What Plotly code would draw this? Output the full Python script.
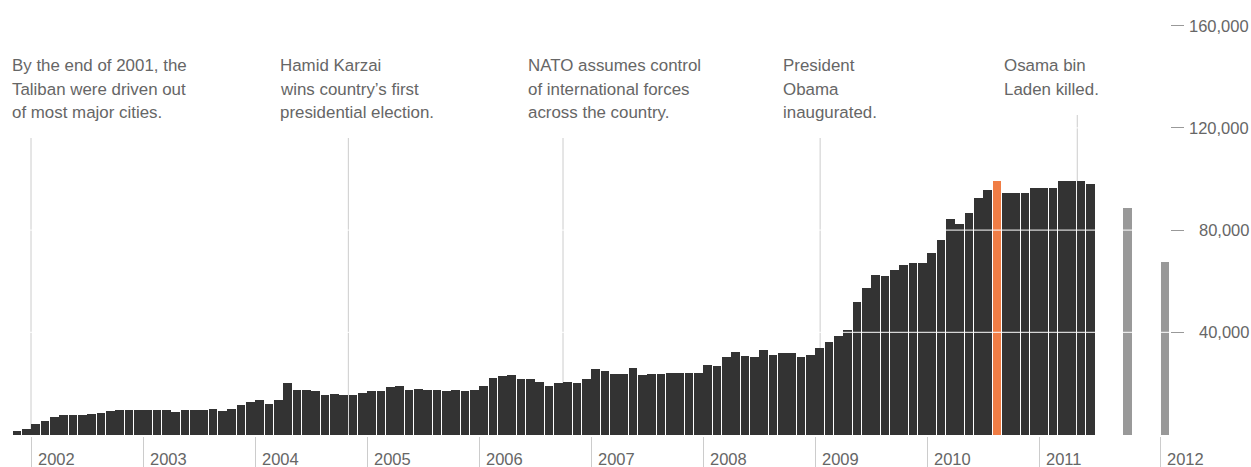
import plotly.graph_objects as go

# ---------------- data ----------------
start_year, start_month = 2001, 11  # first monthly bar: Nov 2001
troops = [
    1250, 2270,                                                                  # 2001 Nov-Dec
    3990, 5280, 6850, 7500, 7500, 7500, 8020, 8540, 9060, 9450, 9450, 9450,      # 2002
    9450, 9450, 9450, 8930, 9450, 9450, 9450, 9950, 9330, 9850, 11420, 12850,    # 2003
    13370, 11940, 13370, 20030, 17540, 17540, 16900, 15460, 15980, 15460, 15460, 16370,  # 2004
    16900, 16900, 18460, 19110, 17540, 17930, 17540, 17540, 16900, 17540, 17030, 17540,  # 2005
    19110, 22110, 22770, 23160, 21600, 21600, 20680, 19110, 20030, 20680, 20030, 21600,  # 2006
    25770, 24730, 23680, 23680, 26150, 23160, 23680, 23680, 24200, 24200, 24200, 24200,  # 2007
    27200, 26680, 30200, 32290, 30850, 30200, 33200, 31240, 31770, 31770, 30200, 31240,  # 2008
    33740, 36330, 38420, 40900, 51740, 57340, 62430, 61910, 64520, 66480, 67000, 67000,  # 2009
    71170, 76260, 84480, 82260, 86570, 92570, 95570, 99150, 94640, 94640, 94640, 96600,  # 2010
    96600, 96600, 99100, 99100, 99100, 98170,                                    # 2011 Jan-Jun
]
highlight = (2010, 8)  # month drawn in orange

proj_labels = ["End of 2011", "Summer 2012"]
proj_values = [88500, 67500]
proj_month = [117, 121]          # months after Jan 2002 (axis is compressed after 2011)

year_labels = ["2002", "2003", "2004", "2005", "2006", "2007", "2008", "2009", "2010", "2011", "2012"]
year_month = [0, 12, 24, 36, 48, 60, 72, 84, 96, 108, 121]

y_ticks = [40000, 80000, 120000, 160000]
y_tick_text = ["40,000", "80,000", "120,000", "160,000"]

event_month = [0, 34, 57, 84.55, 112.1]
event_text = [
    ["By the end of 2001, the", "Taliban were driven out", "of most major cities."],
    ["Hamid Karzai", "wins country\u2019s first", "presidential election."],
    ["NATO assumes control", "of international forces", "across the country."],
    ["President", "Obama", "inaugurated."],
    ["Osama bin", "Laden killed."],
]

# ---------------- layout helpers (pixels) ----------------
W, H = 1251, 467
M_L, M_R, M_T, M_B = 0, 81, 0, 31
PW, PH = W - M_L - M_R, H - M_T - M_B
PX_PER_MONTH = 9.3333
X0_PX = 31  # pixel of Jan 2002
x_range = [(0 - X0_PX) / PX_PER_MONTH, (PW - X0_PX) / PX_PER_MONTH]
y_range = [-587, 170060]

def px_y(py):
    return (M_T + PH - py) / PH

def px_x(px):
    return (px - M_L) / PW

text_left_px = [12, 280, 528, 783, 1004]
line_top_px = [138, 138, 138, 138, 115]
row_px = [66, 89, 112]

DARK = "#333333"
ORANGE = "#f07d45"
GREY = "#999999"
TXT = "#666666"
FONT = "Arial, Liberation Sans, sans-serif"
FS = 16.5
FS_EVENT = 16.9

# ---------------- traces ----------------
first_idx = (start_year - 2002) * 12 + (start_month - 1)
xs = [first_idx + i + 0.5 for i in range(len(troops))]
hl_idx = (highlight[0] - 2002) * 12 + (highlight[1] - 1)
colors = [ORANGE if (first_idx + i) == hl_idx else DARK for i in range(len(troops))]

fig = go.Figure()
fig.add_trace(go.Bar(x=xs, y=troops, width=0.9, marker=dict(color=colors, line=dict(width=0)),
                     name="U.S. troops", showlegend=False))
fig.add_trace(go.Bar(x=[m + 0.5 for m in proj_month], y=proj_values, width=0.95,
                     marker=dict(color=GREY, line=dict(width=0)),
                     text=proj_labels, textposition="none", showlegend=False))

shapes = []
# event lines (behind bars)
for m, top in zip(event_month, line_top_px):
    shapes.append(dict(type="line", xref="x", yref="paper", x0=m, x1=m,
                       y0=px_y(434.5), y1=px_y(top), layer="below",
                       line=dict(color="#cccccc", width=1)))
# white gridlines on top of the bars
for v in y_ticks:
    shapes.append(dict(type="line", xref="paper", yref="y", x0=0, x1=1, y0=v, y1=v,
                       layer="above", line=dict(color="white", width=1)))

annotations = []
for left, lines in zip(text_left_px, event_text):
    for r, t in zip(row_px, lines):
        annotations.append(dict(xref="paper", yref="paper", x=px_x(left - 2), y=px_y(r),
                                xanchor="left", yanchor="middle", text=t, showarrow=False,
                                font=dict(family=FONT, size=FS_EVENT, color=TXT)))
for lab, m in zip(year_labels, year_month):
    annotations.append(dict(xref="x", yref="paper", x=m, xshift=5, y=px_y(459),
                            xanchor="left", yanchor="middle", text=lab, showarrow=False,
                            font=dict(family=FONT, size=FS, color=TXT)))
for v, t in zip(y_ticks, y_tick_text):
    annotations.append(dict(xref="paper", yref="y", x=px_x(1251), y=v,
                            xanchor="right", yanchor="middle", text=t, showarrow=False,
                            font=dict(family=FONT, size=FS, color=TXT)))

fig.update_layout(
    width=W, height=H,
    margin=dict(l=M_L, r=M_R, t=M_T, b=M_B, pad=0),
    paper_bgcolor="white", plot_bgcolor="white",
    bargap=0, barmode="overlay",
    shapes=shapes, annotations=annotations,
    xaxis=dict(range=x_range, showgrid=False, zeroline=False, showline=False,
               tickmode="array", tickvals=year_month, ticks="outside", ticklen=31,
               tickcolor="#cccccc", tickwidth=1, showticklabels=False, fixedrange=True),
    yaxis=dict(range=y_range, side="right", showgrid=False, zeroline=False, showline=False,
               tickmode="array", tickvals=y_ticks, ticks="outside", ticklen=13,
               tickcolor=GREY, tickwidth=1, showticklabels=False, fixedrange=True),
)

fig.write_html("out.html", config={"displayModeBar": False})
